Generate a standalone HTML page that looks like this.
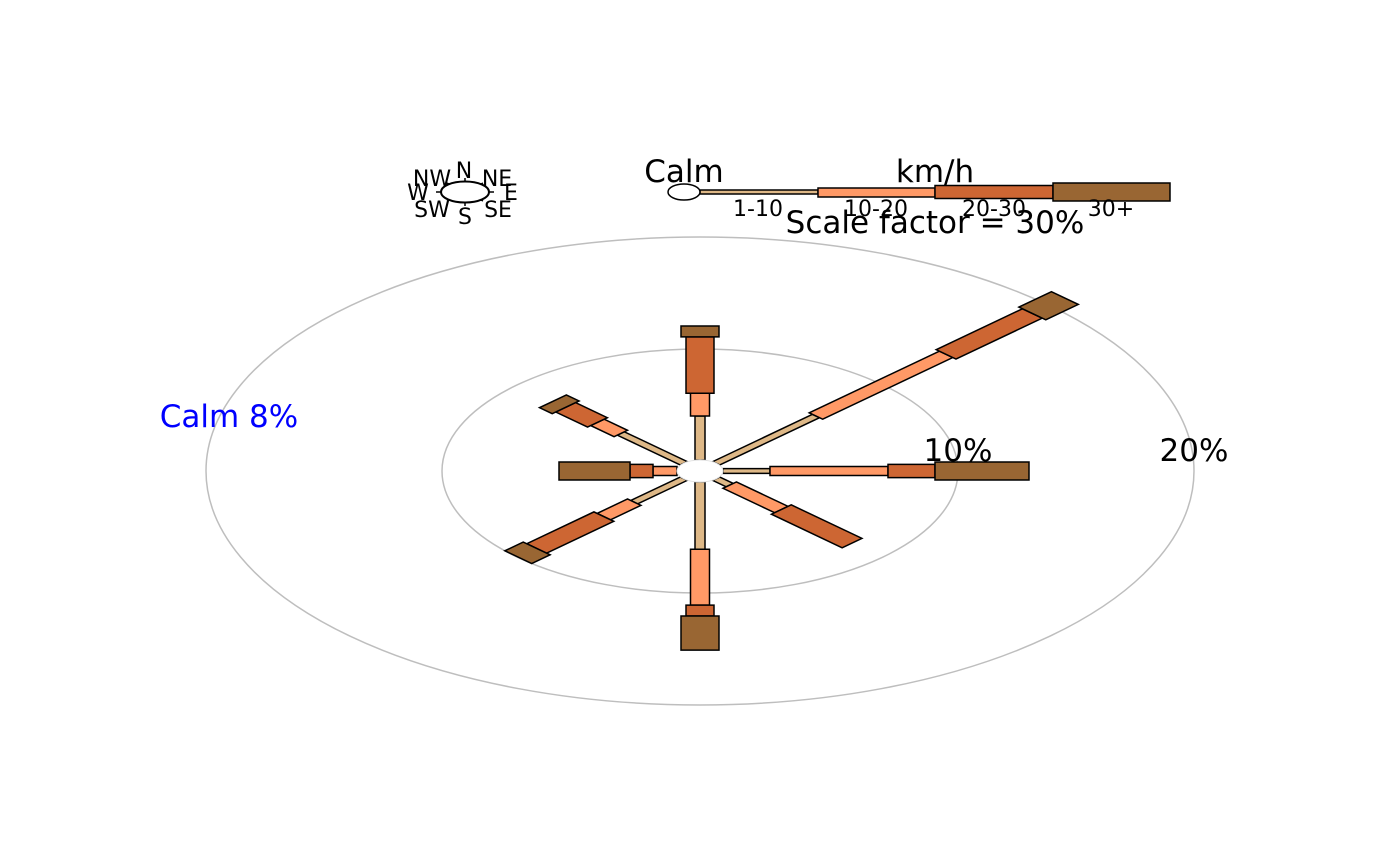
<!DOCTYPE html>
<html><head><meta charset="utf-8"><style>
html,body{margin:0;padding:0;background:#fff;}
svg{display:block;font-family:"DejaVu Sans","Liberation Sans",sans-serif;}
rect.s{vector-effect:non-scaling-stroke;stroke:#000;stroke-width:1.5;}
</style></head><body>
<svg width="1400" height="866" viewBox="0 0 1400 866" xmlns="http://www.w3.org/2000/svg">
<rect width="1400" height="866" fill="#fff"/>
<ellipse cx="700" cy="471" rx="258" ry="122" fill="none" stroke="#bebebe" stroke-width="1.5"/>
<ellipse cx="700" cy="471" rx="494" ry="234" fill="none" stroke="#bebebe" stroke-width="1.5"/>
<g transform="translate(700,471) scale(1,0.474)">
 <g transform="rotate(0)">
  <rect class="s" x="23" y="-5" width="47" height="10" fill="#DEB887"/>
  <rect class="s" x="70" y="-9.5" width="118" height="19" fill="#FF9966"/>
  <rect class="s" x="188" y="-14" width="47" height="28" fill="#CD6633"/>
  <rect class="s" x="235" y="-19" width="94" height="38" fill="#996633"/>
 </g>
 <g transform="rotate(180)">
  <rect class="s" x="23" y="-9.5" width="24" height="19" fill="#FF9966"/>
  <rect class="s" x="47" y="-14" width="23" height="28" fill="#CD6633"/>
  <rect class="s" x="70" y="-19" width="71" height="38" fill="#996633"/>
 </g>
 <g transform="rotate(-90)">
  <rect class="s" x="23" y="-5" width="93" height="10" fill="#DEB887"/>
  <rect class="s" x="116" y="-9.5" width="48" height="19" fill="#FF9966"/>
  <rect class="s" x="164" y="-14" width="119" height="28" fill="#CD6633"/>
  <rect class="s" x="283" y="-19" width="23" height="38" fill="#996633"/>
 </g>
 <g transform="rotate(90)">
  <rect class="s" x="23" y="-5" width="142" height="10" fill="#DEB887"/>
  <rect class="s" x="165" y="-9.5" width="118" height="19" fill="#FF9966"/>
  <rect class="s" x="283" y="-14" width="23" height="28" fill="#CD6633"/>
  <rect class="s" x="306" y="-19" width="72" height="38" fill="#996633"/>
 </g>
 <g transform="rotate(-45)">
  <rect class="s" x="23" y="-5" width="141" height="10" fill="#DEB887"/>
  <rect class="s" x="164" y="-9.5" width="184" height="19" fill="#FF9966"/>
  <rect class="s" x="348" y="-14" width="122" height="28" fill="#CD6633"/>
  <rect class="s" x="470" y="-19" width="46" height="38" fill="#996633"/>
 </g>
 <g transform="rotate(-135)">
  <rect class="s" x="23" y="-5" width="89" height="10" fill="#DEB887"/>
  <rect class="s" x="112" y="-9.5" width="33" height="19" fill="#FF9966"/>
  <rect class="s" x="145" y="-14" width="45" height="28" fill="#CD6633"/>
  <rect class="s" x="190" y="-19" width="18" height="38" fill="#996633"/>
 </g>
 <g transform="rotate(135)">
  <rect class="s" x="23" y="-5" width="70" height="10" fill="#DEB887"/>
  <rect class="s" x="93" y="-9.5" width="43" height="19" fill="#FF9966"/>
  <rect class="s" x="136" y="-14" width="95" height="28" fill="#CD6633"/>
  <rect class="s" x="231" y="-19" width="26" height="38" fill="#996633"/>
 </g>
 <g transform="rotate(45)">
  <rect class="s" x="23" y="-5" width="19" height="10" fill="#DEB887"/>
  <rect class="s" x="42" y="-9.5" width="73" height="19" fill="#FF9966"/>
  <rect class="s" x="115" y="-14" width="100" height="28" fill="#CD6633"/>
 </g>
</g>
<ellipse cx="700" cy="471" rx="23" ry="11" fill="#fff" stroke="#e0e0e0" stroke-width="1"/>
<text x="958" y="461" font-size="31" text-anchor="middle">10%</text>
<text x="1194" y="461" font-size="31" text-anchor="middle">20%</text>
<text x="229" y="427" font-size="31" text-anchor="middle" fill="#0000ff">Calm 8%</text>
<g stroke="#000" stroke-width="1.5">
 <line x1="465" y1="178" x2="465" y2="206"/>
 <line x1="436" y1="192" x2="494" y2="192"/>
 <line x1="447" y1="183" x2="483" y2="201"/>
 <line x1="447" y1="201" x2="483" y2="183"/>
</g>
<ellipse cx="465" cy="192" rx="24" ry="10.5" fill="#fff" stroke="#000" stroke-width="2"/>
<g font-size="22" text-anchor="middle">
 <text x="464" y="178">N</text>
 <text x="432" y="186">NW</text>
 <text x="497" y="186">NE</text>
 <text x="418" y="200">W</text>
 <text x="511" y="200">E</text>
 <text x="432" y="217">SW</text>
 <text x="498" y="217">SE</text>
 <text x="465" y="224">S</text>
</g>
<rect x="700" y="190" width="118" height="4" fill="#DEB887" stroke="#000" stroke-width="1.5"/>
<rect x="818" y="188" width="117" height="9" fill="#FF9966" stroke="#000" stroke-width="1.5"/>
<rect x="935" y="185.5" width="118" height="13" fill="#CD6633" stroke="#000" stroke-width="1.5"/>
<rect x="1053" y="183" width="117" height="18" fill="#996633" stroke="#000" stroke-width="1.5"/>
<ellipse cx="684" cy="192" rx="16" ry="8" fill="#fff" stroke="#000" stroke-width="1.5"/>
<text x="684" y="182" font-size="31" text-anchor="middle">Calm</text>
<text x="935" y="182" font-size="31" text-anchor="middle">km/h</text>
<g font-size="22" text-anchor="middle">
 <text x="758" y="216">1-10</text>
 <text x="876" y="216">10-20</text>
 <text x="994" y="216">20-30</text>
 <text x="1111" y="216">30+</text>
</g>
<text x="935" y="233" font-size="31" text-anchor="middle">Scale factor = 30%</text>
</svg>
</body></html>
